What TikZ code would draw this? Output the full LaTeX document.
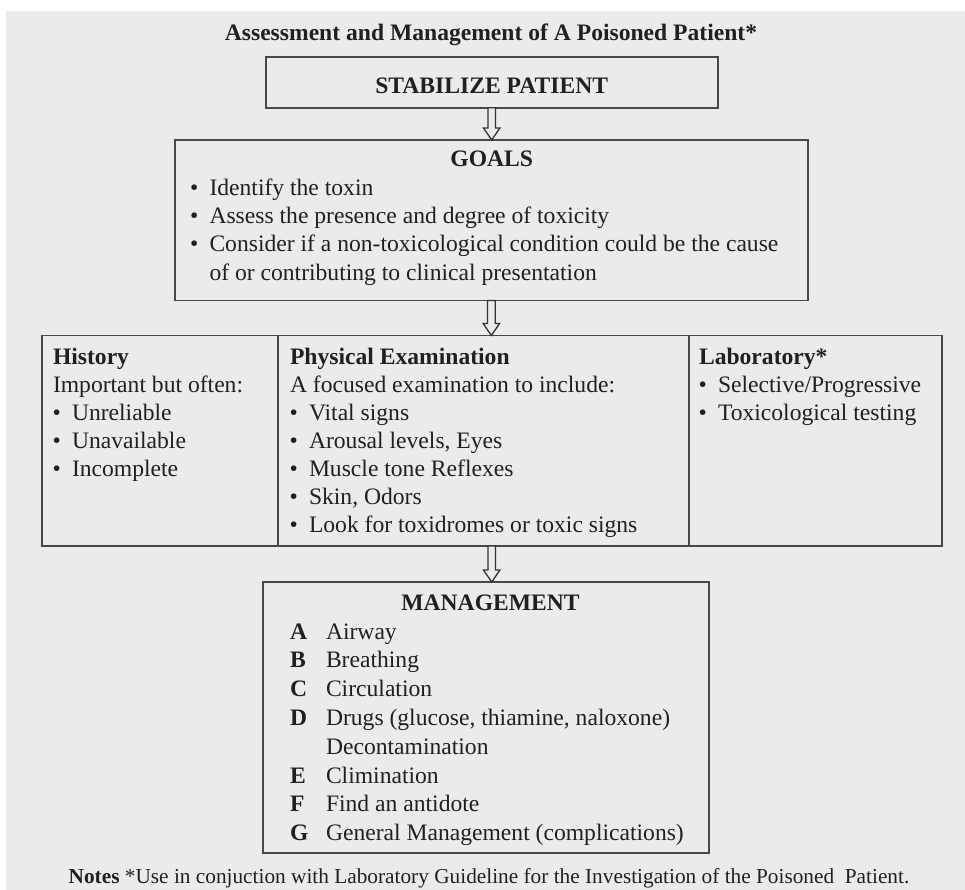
\documentclass[tikz,border=0pt]{standalone}
\usepackage{fontspec}
\setmainfont{Liberation Serif}
\usetikzlibrary{calc}
\definecolor{bg}{RGB}{234,235,234}
\definecolor{ln}{RGB}{72,72,72}
\definecolor{ink}{RGB}{35,31,32}
\tikzset{
  box/.style={draw=ln, line width=1.7pt, inner sep=0pt, outer sep=0pt, anchor=north west},
  divider/.style={draw=ln, line width=1.5pt},
  txt/.style={anchor=base west, inner sep=0pt, outer sep=0pt, text=ink, font=\fontsize{23.6}{28}\selectfont},
  hdr/.style={txt, font=\fontsize{23.6}{28}\selectfont\bfseries},
  ctrb/.style={anchor=base, inner sep=0pt, outer sep=0pt, text=ink, font=\fontsize{23.6}{28}\selectfont\bfseries},
  notes/.style={anchor=base, inner sep=0pt, outer sep=0pt, text=ink, font=\fontsize{21.3}{26}\selectfont},
  hollow/.style={draw=black!80, line width=1.3pt, fill=bg, line join=miter},
}
\newcommand{\bitem}[4]{%
  \node[txt] (#1b) at (#2,#3) {•};
  \node[txt] (#1) at (#2+19.5,#3) {#4};}
\newcommand{\harrow}[2]{%
  \draw[hollow] let \p1=(#1.south), \p2=(#2.north) in
    (\x1-3.8pt,\y1) -- (\x1-3.8pt,\y2+12pt) -- (\x1-8.2pt,\y2+12pt) -- (\x1,\y2)
    -- (\x1+8.2pt,\y2+12pt) -- (\x1+3.8pt,\y2+12pt) -- (\x1+3.8pt,\y1) -- cycle;}
\newcommand{\mitem}[4]{%
  \node[hdr] (#1l) at (290,#2) {#3};
  \node[txt] (#1) at (326,#2) {#4};}
\begin{document}
\begin{tikzpicture}[x=1pt,y=-1pt]
\useasboundingbox (0,0) rectangle (965,890);
\fill[bg] (6,11) rectangle (965,890);

% title
\node[ctrb] (title) at (491,40.7) {Assessment and Management of A Poisoned Patient*};

% stabilize
\node[box, minimum width=452pt, minimum height=50.7pt] (stab) at (265.7,57) {};
\node[ctrb] (stabt) at (491.7,94) {STABILIZE PATIENT};

% goals
\node[box, minimum width=632.7pt, minimum height=160.5pt] (goals) at (175,140) {};
\node[ctrb] (goalst) at (491.7,167) {GOALS};
\bitem{g1}{190}{196}{Identify the toxin}
\bitem{g2}{190}{224}{Assess the presence and degree of toxicity}
\bitem{g3}{190}{252}{Consider if a non-toxicological condition could be the cause}
\node[txt] (g4) at (209.5,280) {of or contributing to clinical presentation};

% examination row
\node[box, minimum width=900pt, minimum height=210.5pt] (exam) at (41.7,335.5) {};
\draw[divider] (exam.north west) ++(236.3,0) -- ++(0,210.5);
\draw[divider] (exam.north west) ++(647.3,0) -- ++(0,210.5);

\node[hdr] (hist) at (53,364) {History};
\node[txt] (hist1) at (53,392) {Important but often:};
\bitem{h1}{52.5}{420}{Unreliable}
\bitem{h2}{52.5}{448}{Unavailable}
\bitem{h3}{52.5}{476}{Incomplete}

\node[hdr] (phys) at (290,364) {Physical Examination};
\node[txt] (phys1) at (290,392) {A focused examination to include:};
\bitem{p1}{289.5}{420}{Vital signs}
\bitem{p2}{289.5}{448}{Arousal levels, Eyes}
\bitem{p3}{289.5}{476}{Muscle tone Reflexes}
\bitem{p4}{289.5}{504}{Skin, Odors}
\bitem{p5}{289.5}{532}{Look for toxidromes or toxic signs}

\node[hdr] (lab) at (699,364) {Laboratory*};
\bitem{l1}{698.5}{392}{Selective/Progressive}
\bitem{l2}{698.5}{420}{Toxicological testing}

% management
\node[box, minimum width=446pt, minimum height=271pt] (mgmt) at (263,582) {};
\node[ctrb] (mgmtt) at (490.5,610) {MANAGEMENT};
\mitem{mA}{639}{A}{Airway}
\mitem{mB}{667.8}{B}{Breathing}
\mitem{mC}{696.6}{C}{Circulation}
\mitem{mD}{725.4}{D}{Drugs (glucose, thiamine, naloxone)}
\node[txt] (mD2) at (326,754.2) {Decontamination};
\mitem{mE}{783}{E}{Climination}
\mitem{mF}{811.8}{F}{Find an antidote}
\mitem{mG}{840.6}{G}{General Management (complications)}

% notes
\node[notes] (note) at (489,883) {\textbf{Notes} *Use in conjuction with Laboratory Guideline for the Investigation of the Poisoned\ \ Patient.};

% arrows
\harrow{stab}{goals}
\harrow{goals}{exam}
\harrow{exam}{mgmt}
\end{tikzpicture}
\end{document}
